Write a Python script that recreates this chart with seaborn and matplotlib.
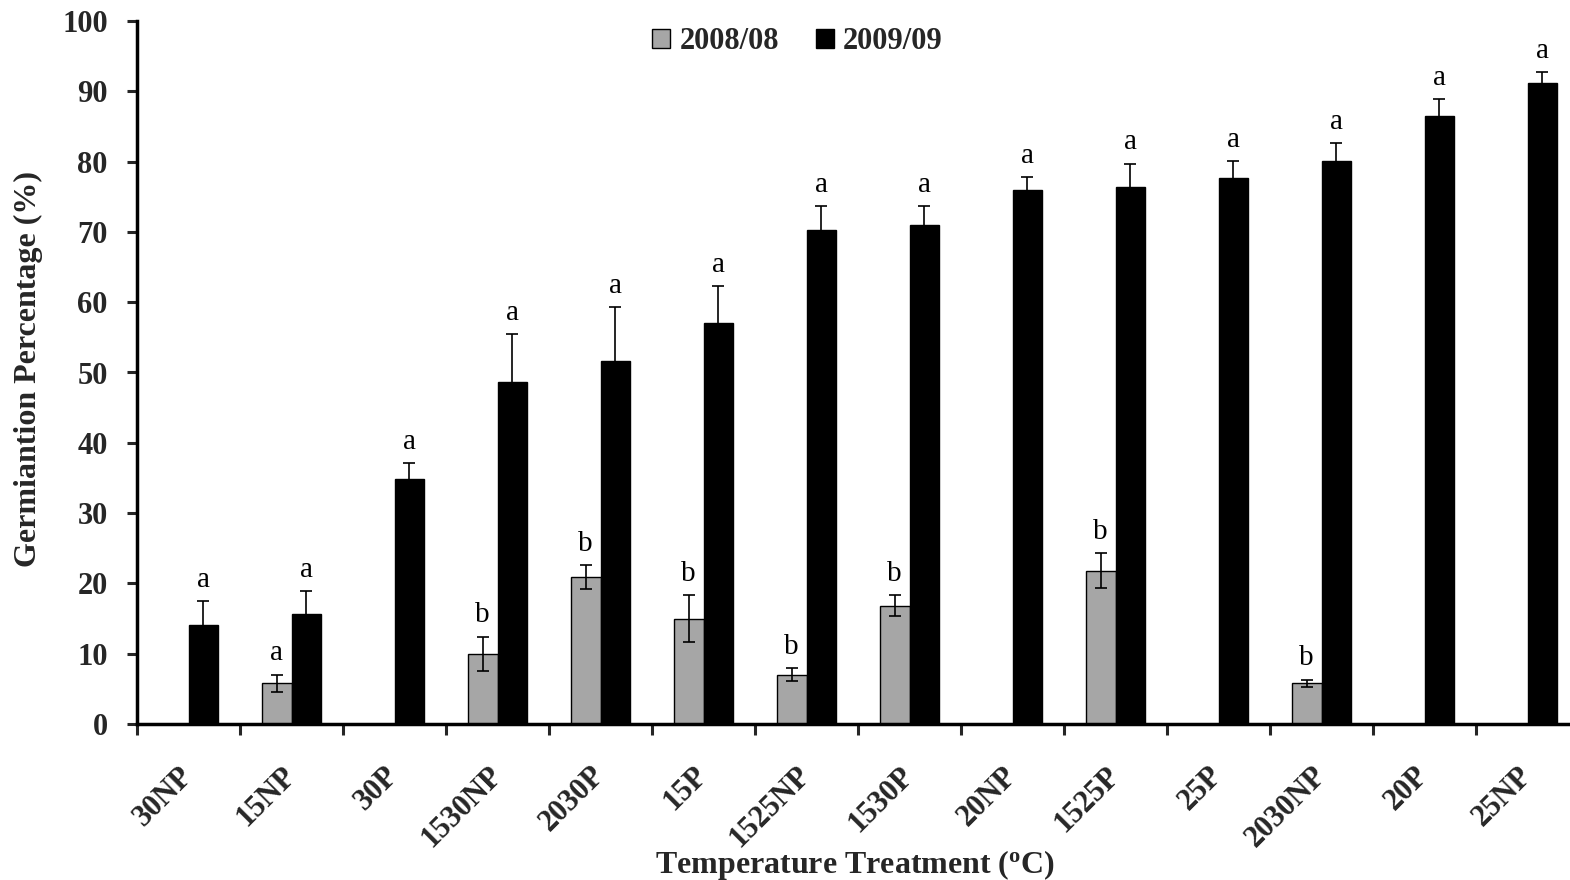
import numpy as np
import pandas as pd
import seaborn as sns
import matplotlib.pyplot as plt

categories = ["30NP", "15NP", "30P", "1530NP", "2030P", "15P", "1525NP",
              "1530P", "20NP", "1525P", "25P", "2030NP", "20P", "25NP"]
series = ["2008/08", "2009/09"]
nan = np.nan
vals_2008 = [nan, 5.8, nan, 10.0, 20.9, 15.0, 7.0, 16.8, nan, 21.8, nan, 5.8, nan, nan]
err_2008 = [nan, 1.2, nan, 2.4, 1.7, 3.3, 0.9, 1.5, nan, 2.5, nan, 0.5, nan, nan]
vals_2009 = [14.1, 15.7, 34.8, 48.6, 51.6, 57.0, 70.3, 71.0, 76.0, 76.4, 77.7, 80.1, 86.5, 91.2]
err_2009 = [3.4, 3.2, 2.3, 6.9, 7.7, 5.3, 3.4, 2.7, 1.8, 3.3, 2.4, 2.5, 2.4, 1.5]
letters_2008 = ["", "a", "", "b", "b", "b", "b", "b", "", "b", "", "b", "", ""]
letters_2009 = ["a"] * 14
yticks = list(range(0, 101, 10))

sns.set_style("ticks")
plt.rcParams["font.family"] = ["Liberation Serif", "DejaVu Serif"]
plt.rcParams["mathtext.fontset"] = "custom"
plt.rcParams["mathtext.rm"] = "Liberation Serif"
plt.rcParams["mathtext.bf"] = "Liberation Serif:bold"

rows = []
for c, v, e, l in zip(categories, vals_2008, err_2008, letters_2008):
    rows.append(dict(Treatment=c, Season=series[0], Value=v, Err=e, Letter=l))
for c, v, e, l in zip(categories, vals_2009, err_2009, letters_2009):
    rows.append(dict(Treatment=c, Season=series[1], Value=v, Err=e, Letter=l))
df = pd.DataFrame(rows).dropna(subset=["Value"])

fig = plt.figure(figsize=(15.7, 8.8), dpi=100)
ax = fig.add_axes([137 / 1570, 1 - 724 / 880, 1442 / 1570, 703 / 880])

palette = {series[0]: "#A6A6A6", series[1]: "#000000"}
sns.barplot(data=df, x="Treatment", y="Value", hue="Season", order=categories,
            hue_order=series, palette=palette, width=0.575, gap=0,
            errorbar=None, edgecolor="black", linewidth=1.0, ax=ax,
            saturation=1)

lookup = {(r.Treatment, r.Season): r for r in df.itertuples()}
for cont, s in zip(ax.containers, series):
    for bar in cont:
        h = bar.get_height()
        if not np.isfinite(h):
            continue
        xc = bar.get_x() + bar.get_width() / 2
        cat = categories[int(round(xc))]
        r = lookup.get((cat, s))
        if r is None:
            continue
        ax.errorbar(xc, r.Value, yerr=r.Err, fmt="none", ecolor="black",
                    elinewidth=1.2, capsize=4, capthick=1.2, zorder=3)
        ax.annotate(r.Letter, (xc, r.Value + r.Err), xytext=(0, 6),
                    textcoords="offset points", ha="center", va="bottom",
                    fontsize=21, color="black")

ax.set_xlim(-0.5, len(categories) - 0.5)
ax.set_ylim(0, 100)
ax.set_yticks(yticks)
ax.set_yticklabels([str(t) for t in yticks], fontsize=22, fontweight="bold")
ax.tick_params(axis="y", length=7, width=2.2, pad=14, direction="out")

ax.set_xticks(range(len(categories)))
ax.set_xticklabels(categories, fontsize=22, fontweight="bold")
ax.set_xticks(np.arange(-0.5, len(categories), 1.0), minor=True)
ax.tick_params(axis="x", which="major", length=0, pad=34)
ax.tick_params(axis="x", which="minor", length=8, width=2.2, direction="out")
plt.setp(ax.get_xticklabels(), rotation=45, ha="right", va="center",
         rotation_mode="anchor")

for sp in ["top", "right"]:
    ax.spines[sp].set_visible(False)
for sp in ["left", "bottom"]:
    ax.spines[sp].set_linewidth(2.5)
    ax.spines[sp].set_color("black")

ax.set_xlabel(r"Temperature Treatment ($\mathbf{^{o}}$C)", fontsize=23,
              fontweight="bold")
ax.xaxis.set_label_coords(0.498, -0.176)
ax.set_ylabel("Germiantion Percentage (%)", fontsize=23, fontweight="bold")
ax.yaxis.set_label_coords(-0.065, 0.505)

handles, labels = ax.get_legend_handles_labels()
ax.legend(handles, labels, loc="upper center", bbox_to_anchor=(0.458, 1.03),
          ncol=2, frameon=False, handlelength=0.6, handleheight=0.6,
          handletextpad=0.3, columnspacing=1.2,
          prop={"size": 22, "weight": "bold"})

fig.savefig("out.png", dpi=100)
